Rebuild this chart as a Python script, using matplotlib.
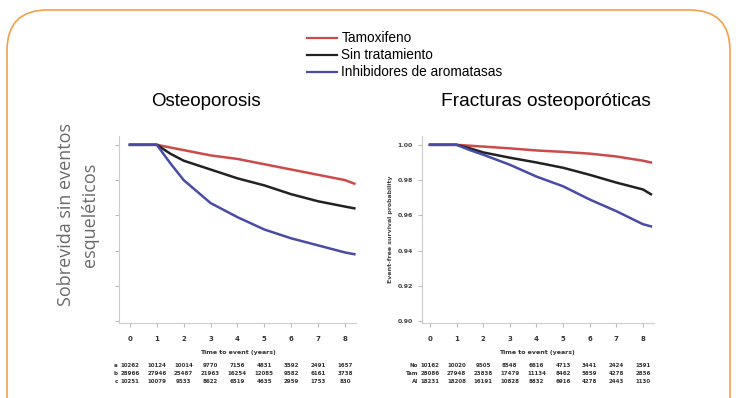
import numpy as np
import matplotlib
matplotlib.use("Agg")
import matplotlib.pyplot as plt
from matplotlib.patches import FancyBboxPatch
from matplotlib.lines import Line2D

# series labels and colours
series = ["Tamoxifeno", "Sin tratamiento", "Inhibidores de aromatasas"]
colors = ["#cc4a4a", "#222222", "#4a4aa8"]

# left panel: Osteoporosis
x_left = [0, 1, 1.5, 2, 3, 4, 5, 6, 7, 8, 8.35]
osteo_tam = [1.000, 1.000, 0.9985, 0.997, 0.994, 0.992, 0.989, 0.986, 0.983, 0.980, 0.978]
osteo_sin = [1.000, 1.000, 0.995, 0.991, 0.986, 0.981, 0.977, 0.972, 0.968, 0.965, 0.964]
osteo_ia = [1.000, 1.000, 0.9896, 0.980, 0.967, 0.959, 0.952, 0.947, 0.943, 0.939, 0.938]

# right panel: Fracturas osteoporoticas
x_right = [0, 1, 1.5, 2, 3, 4, 5, 6, 7, 8, 8.3]
frac_tam = [1.000, 1.000, 0.9995, 0.999, 0.998, 0.9968, 0.996, 0.995, 0.9934, 0.991, 0.990]
frac_sin = [1.000, 1.000, 0.998, 0.9957, 0.9927, 0.990, 0.987, 0.983, 0.9786, 0.9747, 0.972]
frac_ia = [1.000, 1.000, 0.997, 0.9944, 0.9887, 0.982, 0.9765, 0.969, 0.9624, 0.955, 0.9538]

yticks = [1.00, 0.98, 0.96, 0.94, 0.92, 0.90]
xticks = list(range(9))

# numbers at risk (hard to read in source, estimated)
left_rows = ["a", "b", "c"]
left_risk = [
    [10262, 10124, 10014, 9770, 7156, 4831, 3592, 2491, 1657],
    [28966, 27946, 25487, 21963, 16254, 12085, 9582, 6161, 3738],
    [10251, 10079, 9533, 8622, 6519, 4635, 2959, 1753, 830],
]
right_rows = ["No", "Tam", "AI"]
right_risk = [
    [10162, 10020, 9505, 8548, 6616, 4713, 3441, 2424, 1591],
    [28086, 27948, 23838, 17479, 11134, 8462, 5859, 4278, 2856],
    [18231, 18208, 16191, 10828, 8832, 6916, 4278, 2443, 1130],
]

FONT = "Liberation Sans"

fig = plt.figure(figsize=(7.38, 3.98), dpi=100)
fig.patch.set_facecolor("white")

# orange rounded frame
frame = FancyBboxPatch((7 / 738, -0.2), 723 / 738, 1.175, transform=fig.transFigure,
                       boxstyle="round,pad=0,rounding_size=0.055", mutation_aspect=738 / 398,
                       fill=False, edgecolor="#f2a04a", linewidth=1.2)
fig.patches.append(frame)

fig.text(78 / 738, 0.46, "Sobrevida sin eventos\nesqueléticos", rotation=90,
         ha="center", va="center", fontsize=13, color="#6a6a6a",
         family="Open Sans", linespacing=1.45)

# legend
handles = [Line2D([], [], color=c, lw=1.6) for c in colors]
fig.legend(handles, series, loc="upper left", bbox_to_anchor=(302 / 738, 1 - 26 / 398),
           frameon=False, handlelength=2.2, handletextpad=0.3, borderaxespad=0,
           labelspacing=0.22, prop={"family": FONT, "size": 9.8})


def panel(ax, xs, curves, rows, risk, show_labels):
    for ys, c in zip(curves, colors):
        ax.plot(xs, ys, color=c, lw=1.8)
    ax.set_ylim(0.899, 1.005)
    ax.set_yticks(yticks)
    if show_labels:
        ax.set_yticklabels([f"{v:.2f}" for v in yticks], fontsize=4.5, fontweight="bold", color="#444")
        ax.set_ylabel("Event-free survival probability", fontsize=4.5, fontweight="bold", color="#444", labelpad=3)
    else:
        ax.set_yticklabels([])
    ax.set_xticks(xticks)
    ax.set_xticklabels([str(t) for t in xticks], fontsize=5, fontweight="bold", color="#333")
    ax.tick_params(axis="both", length=3, color="#bbbbbb", width=0.8)
    ax.tick_params(axis="x", pad=6)
    for s in ["top", "right"]:
        ax.spines[s].set_visible(False)
    for s in ["left", "bottom"]:
        ax.spines[s].set_color("#cccccc")
        ax.spines[s].set_linewidth(0.8)
    ax.text(4, -0.16, "Time to event (years)", transform=ax.get_xaxis_transform(),
            ha="center", va="center", fontsize=4.5, fontweight="bold", color="#333")
    for r, (lab, vals) in enumerate(zip(rows, risk)):
        yy = -0.2246 - r * 0.045
        ax.text(-0.45, yy, lab, transform=ax.get_xaxis_transform(), ha="right", va="center",
                fontsize=4, fontweight="bold", color="#333")
        for t, v in zip(xticks, vals):
            ax.text(t, yy, str(v), transform=ax.get_xaxis_transform(), ha="center",
                    va="center", fontsize=4, fontweight="bold", color="#333")


ax1 = fig.add_axes([0.1615, 0.1884, 0.3205, 0.4699])
ax1.set_xlim(-0.4, 8.4)
panel(ax1, x_left, [osteo_tam, osteo_sin, osteo_ia], left_rows, left_risk, False)

ax2 = fig.add_axes([0.5718, 0.1884, 0.3138, 0.4699])
ax2.set_xlim(-0.3, 8.4)
panel(ax2, x_right, [frac_tam, frac_sin, frac_ia], right_rows, right_risk, True)

# panel titles sit slightly off the axes centres in the source
fig.text(206 / 738, 1 - 101 / 398, "Osteoporosis", ha="center", va="center",
         fontsize=13.5, family=FONT)
fig.text(546 / 738, 1 - 102 / 398, "Fracturas osteoporóticas", ha="center", va="center",
         fontsize=13.8, family=FONT)

fig.savefig("out.png", dpi=100)
